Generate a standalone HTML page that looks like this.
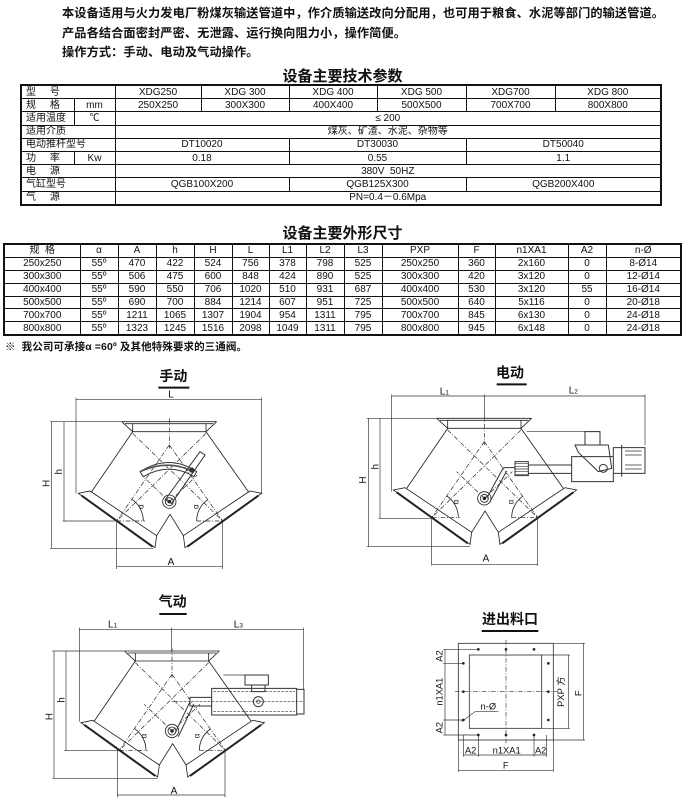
<!DOCTYPE html>
<html><head><meta charset="utf-8"><style>
body{margin:0;background:#fff;width:685px;height:806px;position:relative;overflow:hidden;font-family:"Liberation Sans","Noto Sans CJK SC",sans-serif;color:#111}
.t{position:absolute;left:62px;font-size:12.2px;font-weight:bold;white-space:nowrap;letter-spacing:0.1px}
.h{position:absolute;left:0;width:685px;text-align:center;font-size:15px;font-weight:bold}
table{position:absolute;border-collapse:collapse;table-layout:fixed;border:2px solid #111}
td{border:1px solid #111;padding:0;text-align:center;font-size:10px;line-height:11px;white-space:nowrap;overflow:hidden}
#t1 td{height:12.2px}
#t2 td{height:11.9px}
.l{text-align:left;padding-left:4px}
svg{position:absolute;left:0;top:0}
</style></head><body>
<div class="t" style="top:3px">本设备适用与火力发电厂粉煤灰输送管道中，作介质输送改向分配用，也可用于粮食、水泥等部门的输送管道。</div>
<div class="t" style="top:23px">产品各结合面密封严密、无泄露、运行换向阻力小，操作简便。</div>
<div class="t" style="top:42px">操作方式：手动、电动及气动操作。</div>
<div class="h" style="top:65px">设备主要技术参数</div>
<table id="t1" style="left:20px;top:84px;width:640px">
<colgroup><col style="width:53px"><col style="width:41px"><col style="width:86px"><col style="width:88px"><col style="width:88px"><col style="width:89px"><col style="width:89px"><col style="width:106px"></colgroup>
<tr><td colspan="2" class="l">型 &nbsp; &nbsp; 号</td><td>XDG250</td><td>XDG 300</td><td>XDG 400</td><td>XDG 500</td><td>XDG700</td><td>XDG 800</td></tr>
<tr><td class="l">规 &nbsp; &nbsp; 格</td><td>mm</td><td>250X250</td><td>300X300</td><td>400X400</td><td>500X500</td><td>700X700</td><td>800X800</td></tr>
<tr><td class="l">适用温度</td><td>℃</td><td colspan="6">≤ 200</td></tr>
<tr><td colspan="2" class="l">适用介质</td><td colspan="6">煤灰、矿渣、水泥、杂物等</td></tr>
<tr><td colspan="2" class="l">电动推杆型号</td><td colspan="2">DT10020</td><td colspan="2">DT30030</td><td colspan="2">DT50040</td></tr>
<tr><td class="l">功 &nbsp; &nbsp; 率</td><td>Kw</td><td colspan="2">0.18</td><td colspan="2">0.55</td><td colspan="2">1.1</td></tr>
<tr><td colspan="2" class="l">电 &nbsp; &nbsp; 源</td><td colspan="6">380V &nbsp;50HZ</td></tr>
<tr><td colspan="2" class="l">气缸型号</td><td colspan="2">QGB100X200</td><td colspan="2">QGB125X300</td><td colspan="2">QGB200X400</td></tr>
<tr><td colspan="2" class="l">气 &nbsp; &nbsp; 源</td><td colspan="6">PN=0.4－0.6Mpa</td></tr>
</table>
<div class="h" style="top:222px">设备主要外形尺寸</div>
<table id="t2" style="left:3px;top:243px;width:677px">
<colgroup><col style="width:76px"><col style="width:38px"><col style="width:38px"><col style="width:38px"><col style="width:38px"><col style="width:37px"><col style="width:37px"><col style="width:38px"><col style="width:38px"><col style="width:76px"><col style="width:37px"><col style="width:73px"><col style="width:38px"><col style="width:75px"></colgroup>
<tr><td>规 &nbsp;格</td><td>α</td><td>A</td><td>h</td><td>H</td><td>L</td><td>L1</td><td>L2</td><td>L3</td><td>PXP</td><td>F</td><td>n1XA1</td><td>A2</td><td>n-Ø</td></tr>
<tr><td>250x250</td><td>55º</td><td>470</td><td>422</td><td>524</td><td>756</td><td>378</td><td>798</td><td>525</td><td>250x250</td><td>360</td><td>2x160</td><td>0</td><td>8-Ø14</td></tr>
<tr><td>300x300</td><td>55º</td><td>506</td><td>475</td><td>600</td><td>848</td><td>424</td><td>890</td><td>525</td><td>300x300</td><td>420</td><td>3x120</td><td>0</td><td>12-Ø14</td></tr>
<tr><td>400x400</td><td>55º</td><td>590</td><td>550</td><td>706</td><td>1020</td><td>510</td><td>931</td><td>687</td><td>400x400</td><td>530</td><td>3x120</td><td>55</td><td>16-Ø14</td></tr>
<tr><td>500x500</td><td>55º</td><td>690</td><td>700</td><td>884</td><td>1214</td><td>607</td><td>951</td><td>725</td><td>500x500</td><td>640</td><td>5x116</td><td>0</td><td>20-Ø18</td></tr>
<tr><td>700x700</td><td>55º</td><td>1211</td><td>1065</td><td>1307</td><td>1904</td><td>954</td><td>1311</td><td>795</td><td>700x700</td><td>845</td><td>6x130</td><td>0</td><td>24-Ø18</td></tr>
<tr><td>800x800</td><td>55º</td><td>1323</td><td>1245</td><td>1516</td><td>2098</td><td>1049</td><td>1311</td><td>795</td><td>800x800</td><td>945</td><td>6x148</td><td>0</td><td>24-Ø18</td></tr>
</table>
<div class="t" style="left:5px;top:339px;font-size:10.5px">※ &nbsp;我公司可承接α =60º 及其他特殊要求的三通阀。</div>

<svg width="685" height="806" viewBox="0 0 685 806" font-family="Liberation Sans, Noto Sans CJK SC, sans-serif">
<defs>
<g id="valve" fill="none" stroke="#222" stroke-width="2.5">
<path d="M245 170H530M255 176H520M245 170L278 200V176M530 170L498 200V176M278 200H498"/>
<path d="M278 200L155 380M498 200L625 380"/>
<path d="M115 385L150 378L350 512L345 548Z"/>
<path d="M665 385L630 378L430 512L435 548Z"/>
<path d="M125 392L338 545M655 392L442 545" stroke-width="6"/>
<path d="M350 512L390 448L430 512"/>
<path d="M388 160V250M388 240L230 468M388 240L548 468M230 468H315M470 468H548M388 410L305 330M388 410L472 330M278 205L548 468M498 205L230 468" stroke-dasharray="14 5 3 5" stroke-width="2"/>
<path d="M310 468A80 80 0 0 0 276 403M470 468A78 78 0 0 1 503 404"/>
<circle cx="388" cy="410" r="20"/><circle cx="388" cy="410" r="12"/><circle cx="388" cy="410" r="4" fill="#222"/>
</g>
</defs>

<g transform="translate(40 365) scale(0.33333)">
<use href="#valve"/>
<text x="400" y="48" font-size="42" font-weight="bold" text-anchor="middle" fill="#111">手动</text>
<path d="M355 68H448" stroke="#111" stroke-width="6"/>
<g fill="none" stroke="#333" stroke-width="2">
<path d="M108 103H665M108 98V385M665 98V385M35 170V550M30 170H245M30 550H340M72 170V468M68 468H230M230 468V612M548 468V612M230 605H548"/>
<path d="M300 320Q388 265 470 320L462 335Q388 290 310 335Z" stroke-width="3"/>
<path d="M300 320Q388 280 462 322" stroke-width="5" stroke="#555"/>
<path d="M375 405L480 260L495 270L395 415Z" stroke-width="3"/>
<circle cx="455" cy="315" r="7" fill="#333"/>
</g>
<g font-size="30" fill="#111">
<text x="393" y="98" text-anchor="middle">L</text>
<text x="393" y="600" text-anchor="middle">A</text>
<text transform="translate(28 355) rotate(-90)" text-anchor="middle">H</text>
<text transform="translate(66 320) rotate(-90)" text-anchor="middle">h</text>
<text transform="translate(310 432) rotate(-90)" font-size="24">α</text>
<text transform="translate(475 432) rotate(-90)" font-size="24">α</text>
</g>
</g>

<g transform="translate(355 365) scale(0.33333)">
<use href="#valve" transform="translate(0 -10)"/>
<text x="465" y="38" font-size="42" font-weight="bold" text-anchor="middle" fill="#111">电动</text>
<path d="M425 58H515" stroke="#111" stroke-width="6"/>
<g fill="none" stroke="#333" stroke-width="2">
<path d="M110 93H870M110 88V380M388 88V160M870 88V240M40 160V545M35 160H245M35 545H345M75 160V460M70 460H230M230 458V602M548 458V602M230 598H548M515 200H735"/>
<path d="M445 308H480M480 290H520V332H480ZM520 300H650V325H520ZM650 275H775V350H650ZM775 248H870V325H775ZM800 240V335M690 200H735V240H690ZM660 240H760L770 310L730 320L670 262Z" stroke-width="3"/>
<path d="M480 296H520M480 304H520M480 312H520M480 320H520M480 328H520M810 258H860M810 270H860M810 300H860M810 312H860"/>
<circle cx="745" cy="310" r="12" stroke-width="3"/>
<path d="M445 308L395 400M455 318L405 410" stroke-width="3"/>
</g>
<g font-size="30" fill="#111">
<text x="268" y="88" text-anchor="middle">L<tspan font-size="20">1</tspan></text>
<text x="655" y="85" text-anchor="middle">L<tspan font-size="20">2</tspan></text>
<text x="393" y="590" text-anchor="middle">A</text>
<text transform="translate(33 345) rotate(-90)" text-anchor="middle">H</text>
<text transform="translate(70 305) rotate(-90)" text-anchor="middle">h</text>
<text transform="translate(310 418) rotate(-90)" font-size="24">α</text>
<text transform="translate(475 418) rotate(-90)" font-size="24">α</text>
</g>
</g>

<g transform="translate(30 590) scale(0.33333)">
<use href="#valve" transform="translate(38 13)"/>
<text x="428" y="50" font-size="42" font-weight="bold" text-anchor="middle" fill="#111">气动</text>
<path d="M388 72H470" stroke="#111" stroke-width="6"/>
<g fill="none" stroke="#333" stroke-width="2">
<path d="M148 118H820M148 113V395M425 113V183M820 113V300M72 183V565M67 183H283M67 565H383M108 183V482M103 482H268M262 480V622M585 480V622M262 615H585M580 255H645"/>
<path d="M545 295H800V375H545ZM800 298H822V372H800ZM480 322H545V348H480ZM645 255H715V285H645ZM665 285H705V305H665Z" stroke-width="3"/>
<path d="M550 305H795M550 365H795M425 335H820" stroke-dasharray="8 4"/>
<circle cx="685" cy="335" r="15" stroke-width="3"/><circle cx="685" cy="335" r="5"/>
<path d="M480 335L435 430M490 345L445 440" stroke-width="3"/>
</g>
<g font-size="30" fill="#111">
<text x="248" y="112" text-anchor="middle">L<tspan font-size="20">1</tspan></text>
<text x="625" y="112" text-anchor="middle">L<tspan font-size="20">3</tspan></text>
<text x="432" y="612" text-anchor="middle">A</text>
<text transform="translate(68 380) rotate(-90)" text-anchor="middle">H</text>
<text transform="translate(103 330) rotate(-90)" text-anchor="middle">h</text>
<text transform="translate(350 445) rotate(-90)" font-size="24">α</text>
<text transform="translate(508 445) rotate(-90)" font-size="24">α</text>
</g>
</g>

<g transform="translate(410 600) scale(0.33333)">
<text x="300" y="72" font-size="42" font-weight="bold" text-anchor="middle" fill="#111">进出料口</text>
<path d="M215 93H385" stroke="#111" stroke-width="6"/>
<g fill="none" stroke="#333" stroke-width="2.5">
<rect x="145" y="130" width="285" height="290"/>
<rect x="178" y="165" width="217" height="220"/>
<path d="M395 165H480M395 385H480M475 165V385M430 130H525M430 420H525M520 130V420M100 148H205M100 190H160M100 360H160M100 405H205M105 148V405M145 420V515M430 420V515M145 512H430M160 405V470M205 405V470M372 405V470M410 405V470M160 465H410" stroke-width="2"/>
<path d="M288 120V430M135 275H440" stroke-dasharray="14 5 3 5" stroke-width="2"/>
<path d="M155 365L195 335H265" stroke-width="2"/>
</g>
<g fill="#222">
<circle cx="205" cy="148" r="4"/><circle cx="288" cy="148" r="4"/><circle cx="372" cy="148" r="4"/>
<circle cx="205" cy="405" r="4"/><circle cx="288" cy="405" r="4"/><circle cx="372" cy="405" r="4"/>
<circle cx="160" cy="190" r="4"/><circle cx="160" cy="275" r="4"/><circle cx="160" cy="360" r="4"/>
<circle cx="415" cy="190" r="4"/><circle cx="415" cy="275" r="4"/><circle cx="415" cy="360" r="4"/>
</g>
<g font-size="28" fill="#111">
<text transform="translate(98 168) rotate(-90)" text-anchor="middle">A2</text>
<text transform="translate(98 275) rotate(-90)" text-anchor="middle">n1XA1</text>
<text transform="translate(98 383) rotate(-90)" text-anchor="middle">A2</text>
<text x="235" y="328" text-anchor="middle">n-Ø</text>
<text transform="translate(462 275) rotate(-90)" text-anchor="middle">PXP 方</text>
<text transform="translate(515 280) rotate(-90)" text-anchor="middle">F</text>
<text x="182" y="460" text-anchor="middle">A2</text>
<text x="290" y="460" text-anchor="middle">n1XA1</text>
<text x="392" y="460" text-anchor="middle">A2</text>
<text x="287" y="505" text-anchor="middle">F</text>
</g>
</g>
</svg>
</body></html>
